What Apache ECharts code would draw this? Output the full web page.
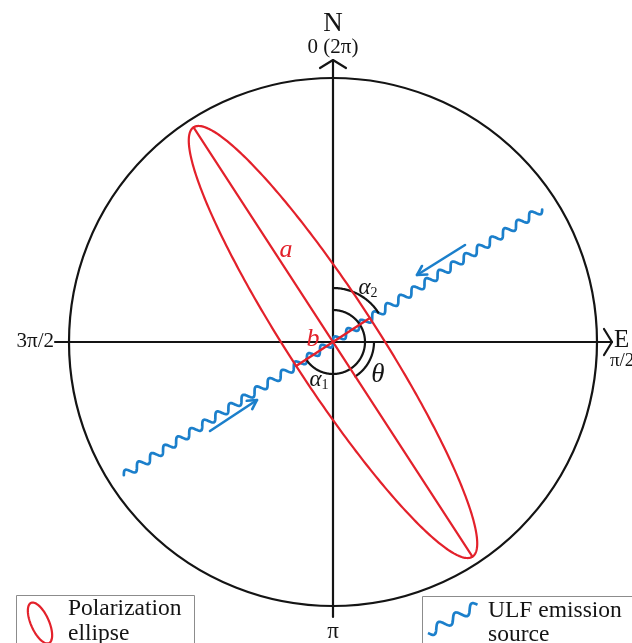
<!DOCTYPE html>
<html><head><meta charset="utf-8">
<script src="https://cdn.jsdelivr.net/npm/echarts@6/dist/echarts.min.js"></script>
<style>html,body{margin:0;padding:0;background:#fff}#c{width:632px;height:643px}</style>
</head><body><div id="c"></div>
<script>
// ---------- diagram data (units: origin at circle centre, y up, azimuth clockwise from N) ----------
const circleRadius = [264];
const northSouthAxis = [282, -275];
const westEastAxis = [-278, 279];
const ellipseSemiAxes = [256, 44];      // a (semi-major), b (semi-minor)
const ellipseAzimuth = [147];           // theta, degrees
const sourceAzimuth = [57.5];           // ULF emission source direction
const sourceExtent = [-248, 248];
const arrowTails = [[132, 97], [-123, -89]];
const arrowHeads = [[84, 67], [-76, -58]];
const arcNames = ['α2', 'α1', 'θ'];
const arcRadii = [54, 32, 41];
const arcStart = [0, 0, 90];
const arcEnd = [57.5, 237.5, 147];
const compassLabels = ['N', '0 (2π)', 'E', 'π/2', 'π', '3π/2'];
const legendNames = ['Polarization\nellipse', 'ULF emission\nsource'];

// ---------- styles ----------
const RED = '#e3212b', BLUE = '#1b7fcb', BLACK = '#141414';
const SERIF = '"Liberation Serif","DejaVu Serif",serif';
const rad = d => d * Math.PI / 180;
const dir = az => [Math.sin(rad(az)), Math.cos(rad(az))];

function poly(api, pts, color, lw) {
  return { type: 'polyline', shape: { points: pts.map(p => api.coord(p)) },
    style: { fill: null, stroke: color, lineWidth: lw, lineJoin: 'round', lineCap: 'round' } };
}
function chevron(from, to, len, half) {
  const dx = to[0] - from[0], dy = to[1] - from[1], L = Math.hypot(dx, dy);
  const ux = dx / L, uy = dy / L, nx = -uy, ny = ux;
  return [[to[0] - ux * len + nx * half, to[1] - uy * len + ny * half], to,
          [to[0] - ux * len - nx * half, to[1] - uy * len - ny * half]];
}
function txt(api, p, text, size, color, opts) {
  const c = api.coord(p);
  return Object.assign({ type: 'text', x: c[0], y: c[1],
    style: Object.assign({ text: text, fill: color, font: size + 'px ' + SERIF,
      align: 'center', verticalAlign: 'middle', textAlign: 'center', textVerticalAlign: 'middle' }, opts || {}) });
}

const base = { type: 'custom', coordinateSystem: 'cartesian2d', data: [[0, 0]], silent: true, animation: false, clip: false };

const series = [
  // circle
  Object.assign({}, base, { renderItem: (p, api) => {
    const c = api.coord([0, 0]); const r = api.size([circleRadius[0], 0])[0];
    return { type: 'circle', shape: { cx: c[0], cy: c[1], r: r }, style: { fill: null, stroke: BLACK, lineWidth: 2.2 } };
  } }),
  // axes
  Object.assign({}, base, { renderItem: (p, api) => {
    const top = [0, northSouthAxis[0]], bot = [0, northSouthAxis[1]];
    const lft = [westEastAxis[0], 0], rgt = [westEastAxis[1], 0];
    return { type: 'group', children: [
      poly(api, [bot, top], BLACK, 2.2), poly(api, [lft, rgt], BLACK, 2.2),
      poly(api, chevron(bot, top, 8, 13), BLACK, 2.2), poly(api, chevron(lft, rgt, 8, 13), BLACK, 2.2)
    ] };
  } }),
  // ULF wave
  Object.assign({}, base, { renderItem: (p, api) => {
    const d = dir(sourceAzimuth[0]), n = [-d[1], d[0]];
    const pts = [];
    for (let s = sourceExtent[0]; s <= sourceExtent[1]; s += 0.6) {
      const w = 3.8 * Math.sin(2 * Math.PI * (s - sourceExtent[0]) / 15.5);
      pts.push([s * d[0] + w * n[0], s * d[1] + w * n[1]]);
    }
    const ch = [poly(api, pts, BLUE, 2.7)];
    arrowTails.forEach((t, i) => {
      ch.push(poly(api, [t, arrowHeads[i]], BLUE, 2.6));
      ch.push(poly(api, chevron(t, arrowHeads[i], 9, 5), BLUE, 2.6));
    });
    return { type: 'group', children: ch };
  } }),
  // angle arcs
  Object.assign({}, base, { renderItem: (p, api) => {
    const ch = arcRadii.map((r, i) => {
      const pts = [];
      for (let az = arcStart[i]; az <= arcEnd[i] + 0.01; az += 1) { const v = dir(az); pts.push([r * v[0], r * v[1]]); }
      return poly(api, pts, BLACK, 2.2);
    });
    return { type: 'group', children: ch };
  } }),
  // polarization ellipse + a, b
  Object.assign({}, base, { renderItem: (p, api) => {
    const [a, b] = ellipseSemiAxes, M = dir(ellipseAzimuth[0]), m = dir(ellipseAzimuth[0] - 90);
    const pts = [];
    for (let t = 0; t <= 360; t += 1) {
      const u = a * Math.cos(rad(t)), v = b * Math.sin(rad(t));
      pts.push([u * M[0] + v * m[0], u * M[1] + v * m[1]]);
    }
    return { type: 'group', children: [
      poly(api, pts, RED, 2.2),
      poly(api, [[-a * M[0], -a * M[1]], [a * M[0], a * M[1]]], RED, 2.2),
      poly(api, [[-b * m[0], -b * m[1]], [b * m[0], b * m[1]]], RED, 2.4)
    ] };
  } }),
  // labels
  Object.assign({}, base, { renderItem: (p, api) => {
    const sub = (g, s) => ({ text: '{g|' + g + '}{s|' + s + '}',
      rich: { g: { fontFamily: SERIF, fontSize: 23, fontStyle: 'italic', fill: BLACK },
              s: { fontFamily: SERIF, fontSize: 14, fill: BLACK, padding: [10, 0, 0, 0] } } });
    return { type: 'group', children: [
      txt(api, [0, 318], compassLabels[0], 27, BLACK),
      txt(api, [0, 295], compassLabels[1], 21, BLACK),
      txt(api, [281, 2], compassLabels[2], 25, BLACK, { align: 'left', textAlign: 'left' }),
      txt(api, [277, -19], compassLabels[3], 19, BLACK, { align: 'left', textAlign: 'left' }),
      txt(api, [0, -290], compassLabels[4], 23, BLACK),
      txt(api, [-279, 1], compassLabels[5], 21, BLACK, { align: 'right', textAlign: 'right' }),
      txt(api, [-47, 92], 'a', 26, RED, { font: 'italic 26px ' + SERIF }),
      txt(api, [-20, 3], 'b', 26, RED, { font: 'italic 26px ' + SERIF }),
      txt(api, [35, 54], '', 23, BLACK, sub('α', '2')),
      txt(api, [-14, -38], '', 23, BLACK, sub('α', '1')),
      txt(api, [45, -33], arcNames[2], 27, BLACK, { font: 'italic 27px ' + SERIF })
    ] };
  } })
];

// legend boxes
function ellipseIcon(cx, cy, rx, ry, rotDeg) {
  const pts = [], r = rad(rotDeg);
  for (let t = 0; t <= 360; t += 4) {
    const x = rx * Math.cos(rad(t)), y = ry * Math.sin(rad(t));
    pts.push([cx + x * Math.cos(r) - y * Math.sin(r), cy + x * Math.sin(r) + y * Math.cos(r)]);
  }
  return pts;
}
function waveIcon(x0, y0, x1, y1, amp, cycles) {
  const dx = x1 - x0, dy = y1 - y0, L = Math.hypot(dx, dy), ux = dx / L, uy = dy / L;
  const pts = [];
  for (let s = 0; s <= L; s += 0.5) {
    const w = amp * Math.sin(2 * Math.PI * cycles * s / L);
    pts.push([x0 + ux * s - uy * w, y0 + uy * s + ux * w]);
  }
  return pts;
}
const legendFont = '23.5px ' + SERIF;
const graphic = [
  { type: 'rect', shape: { x: 16.5, y: 595.5, width: 178, height: 70 }, style: { fill: '#fff', stroke: '#8c8c8c', lineWidth: 1 }, z: 10 },
  { type: 'polygon', shape: { points: ellipseIcon(40, 623, 9, 22, -24) }, style: { fill: null, stroke: RED, lineWidth: 2.2 }, z: 11 },
  { type: 'text', x: 68, y: 609, style: { text: legendNames[0].split('\n')[0], font: legendFont, fill: BLACK, verticalAlign: 'middle' }, z: 11 },
  { type: 'text', x: 68, y: 634, style: { text: legendNames[0].split('\n')[1], font: legendFont, fill: BLACK, verticalAlign: 'middle' }, z: 11 },
  { type: 'rect', shape: { x: 422.5, y: 596.5, width: 240, height: 70 }, style: { fill: '#fff', stroke: '#8c8c8c', lineWidth: 1 }, z: 10 },
  { type: 'polyline', shape: { points: waveIcon(428, 633, 478, 605, 4.5, 3) }, style: { fill: null, stroke: BLUE, lineWidth: 2.7 }, z: 11 },
  { type: 'text', x: 488, y: 611, style: { text: legendNames[1].split('\n')[0], font: legendFont, fill: BLACK, verticalAlign: 'middle' }, z: 11 },
  { type: 'text', x: 488, y: 635, style: { text: legendNames[1].split('\n')[1], font: legendFont, fill: BLACK, verticalAlign: 'middle' }, z: 11 }
];

const chart = echarts.init(document.getElementById('c'), null, { renderer: 'canvas' });
chart.setOption({
  backgroundColor: '#fff',
  animation: false,
  grid: { left: 0, right: 0, top: 0, bottom: 0 },
  xAxis: { type: 'value', min: -333, max: 299, show: false },
  yAxis: { type: 'value', min: -301, max: 342, show: false },
  series: series,
  graphic: graphic
});
</script></body></html>
